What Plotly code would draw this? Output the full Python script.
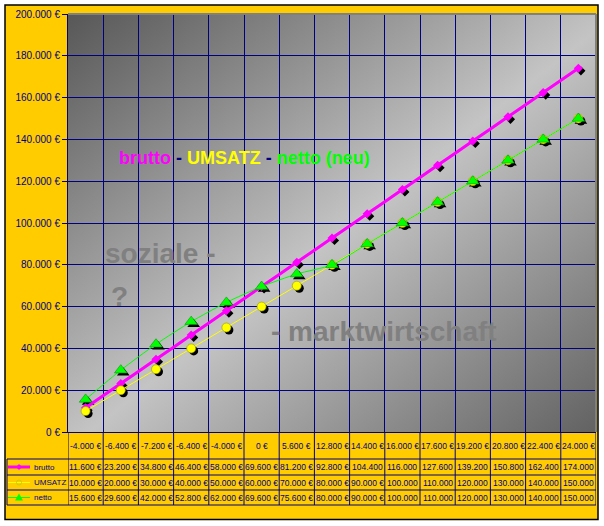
import base64
import plotly.graph_objects as go

# ---------------- data ----------------
col_labels = ["-4.000 €", "-6.400 €", "-7.200 €", "-6.400 €", "-4.000 €", "0 €", "5.600 €",
              "12.800 €", "14.400 €", "16.000 €", "17.600 €", "19.200 €", "20.800 €",
              "22.400 €", "24.000 €"]
brutto = [11600, 23200, 34800, 46400, 58000, 69600, 81200, 92800, 104400, 116000,
          127600, 139200, 150800, 162400, 174000]
umsatz = [10000, 20000, 30000, 40000, 50000, 60000, 70000, 80000, 90000, 100000,
          110000, 120000, 130000, 140000, 150000]
netto = [15600, 29600, 42000, 52800, 62000, 69600, 75600, 80000, 90000, 100000,
         110000, 120000, 130000, 140000, 150000]
series_names = ["brutto", "UMSATZ", "netto"]
y_ticks = [0, 20000, 40000, 60000, 80000, 100000, 120000, 140000, 160000, 180000, 200000]
y_range = [0, 200000]

# ---------------- layout helpers ----------------
W, H = 604, 526
L, R, T, B = 68, 8, 14, 94
PW = W - L - R
PH = H - T - B
NAVY = "#000080"
FONT = "Liberation Sans, Arial, sans-serif"


def px_x(px):
    return (px - L) / PW


def px_y(py):
    return (T + PH - py) / PH


def fmt_num(v):
    return f"{v:,.0f}".replace(",", ".")


def fmt_cell(v):
    return fmt_num(v) + " €" if v < 100000 else fmt_num(v)


n = len(col_labels)
xs = list(range(n))
x_range = [-0.5, n - 0.5]
bounds = [i - 0.5 for i in range(n + 1)]

SH = 2.5
dx = SH * (x_range[1] - x_range[0]) / PW
dy = SH * (y_range[1] - y_range[0]) / PH

styles = {
    "brutto": dict(color="#FF00FF", lw=3, symbol="diamond", size=7, mline=dict(width=0)),
    "UMSATZ": dict(color="#FFFF00", lw=1, symbol="circle", size=9, mline=dict(width=0.6, color="#999900")),
    "netto": dict(color="#00FF00", lw=1, symbol="triangle-up", size=11, mline=dict(width=0.6, color="#009900")),
}
values = {"brutto": brutto, "UMSATZ": umsatz, "netto": netto}

fig = go.Figure()

# invisible helper on base axes
fig.add_trace(go.Scatter(x=xs, y=brutto, mode="lines", line=dict(width=0), opacity=0,
                         hoverinfo="skip", showlegend=False, xaxis="x", yaxis="y"))

# shadows
for name in series_names:
    st = styles[name]
    fig.add_trace(go.Scatter(x=xs, y=values[name], mode="markers", showlegend=False,
                             hoverinfo="skip",
                             marker=dict(symbol=st["symbol"], size=st["size"], color="black",
                                         line=dict(width=0)),
                             xaxis="x2", yaxis="y2"))

# main series
for name in series_names:
    st = styles[name]
    fig.add_trace(go.Scatter(x=xs, y=values[name], mode="lines+markers", name=name,
                             showlegend=False,
                             line=dict(color=st["color"], width=st["lw"], shape="spline", smoothing=0.6),
                             marker=dict(symbol=st["symbol"], size=st["size"], color=st["color"],
                                         line=st["mline"]),
                             xaxis="x3", yaxis="y3"))

# background gradient
svg = ("<svg xmlns='http://www.w3.org/2000/svg' width='200' height='200' viewBox='0 0 200 200' "
       "preserveAspectRatio='none'><defs><linearGradient id='g' x1='0' y1='0' x2='1' y2='1'>"
       "<stop offset='0' stop-color='#575757'/><stop offset='0.52' stop-color='#c4c4c4'/>"
       "<stop offset='1' stop-color='#626262'/></linearGradient></defs>"
       "<rect width='200' height='200' fill='url(#g)'/></svg>")
src = "data:image/svg+xml;base64," + base64.b64encode(svg.encode()).decode()

shapes = []
# outer yellow frame
shapes.append(dict(type="rect", xref="paper", yref="paper", x0=px_x(5), x1=px_x(598),
                   y0=px_y(519.5), y1=px_y(5), fillcolor="#FFCC00",
                   line=dict(color="black", width=1.5), layer="below"))
# plot area gray border (top/right)
shapes.append(dict(type="line", xref="paper", yref="paper", x0=0, x1=1, y0=1, y1=1,
                   line=dict(color="#808080", width=2)))
shapes.append(dict(type="line", xref="paper", yref="paper", x0=1, x1=1, y0=0, y1=1,
                   line=dict(color="#808080", width=2)))
# table horizontal lines
row_tops = [459, 475, 490, 505]
for ry in row_tops:
    shapes.append(dict(type="line", xref="paper", yref="paper", x0=px_x(7), x1=px_x(596),
                       y0=px_y(ry), y1=px_y(ry), line=dict(color=NAVY, width=1)))
# table vertical lines
for b in bounds:
    shapes.append(dict(type="line", xref="x", yref="paper", x0=b, x1=b, y0=0, y1=px_y(505),
                       line=dict(color=NAVY, width=1)))
shapes.append(dict(type="line", xref="paper", yref="paper", x0=px_x(7), x1=px_x(7),
                   y0=px_y(459), y1=px_y(505), line=dict(color=NAVY, width=1)))

annotations = []
# header row
for i, lab in enumerate(col_labels):
    annotations.append(dict(x=xs[i], y=px_y(445.5), xref="x", yref="paper", text=lab,
                            showarrow=False, font=dict(family=FONT, size=8.5, color=NAVY),
                            xanchor="center", yanchor="middle"))
row_centers = [467, 482.5, 497.5]
for r, name in enumerate(series_names):
    st = styles[name]
    yc = row_centers[r]
    for i, v in enumerate(values[name]):
        annotations.append(dict(x=xs[i], y=px_y(yc), xref="x", yref="paper", text=fmt_cell(v),
                                showarrow=False, font=dict(family=FONT, size=8.5, color=NAVY),
                                xanchor="center", yanchor="middle"))
    annotations.append(dict(x=px_x(32), y=px_y(yc), xref="paper", yref="paper", text=name,
                            showarrow=False, font=dict(family=FONT, size=8, color=NAVY),
                            xanchor="left", yanchor="middle"))
    # legend swatch line
    shapes.append(dict(type="line", xref="paper", yref="paper", x0=px_x(8), x1=px_x(30),
                       y0=px_y(yc), y1=px_y(yc), line=dict(color=st["color"], width=st["lw"])))
    ax, ay = px_x(19), px_y(yc)
    if name == "brutto":
        shapes.append(dict(type="path", xref="paper", yref="paper", xsizemode="pixel",
                           ysizemode="pixel", xanchor=ax, yanchor=ay,
                           path="M -3 0 L 0 3 L 3 0 L 0 -3 Z", fillcolor=st["color"],
                           line=dict(width=0)))
    elif name == "UMSATZ":
        shapes.append(dict(type="circle", xref="paper", yref="paper", xsizemode="pixel",
                           ysizemode="pixel", xanchor=ax, yanchor=ay, x0=-2.5, x1=2.5,
                           y0=-2.5, y1=2.5, fillcolor="rgba(0,0,0,0)",
                           line=dict(color="#CCCC00", width=1)))
    else:
        shapes.append(dict(type="path", xref="paper", yref="paper", xsizemode="pixel",
                           ysizemode="pixel", xanchor=ax, yanchor=ay,
                           path="M -4 -3 L 4 -3 L 0 4 Z", fillcolor=st["color"],
                           line=dict(width=0)))

# big texts
title_html = ("<b><span style='color:#FF00FF'>brutto</span><span style='color:#000080'> - </span>"
              "<span style='color:#FFFF00'>UMSATZ</span><span style='color:#000080'> - </span>"
              "<span style='color:#00FF00'>netto (neu)</span></b>")
annotations.append(dict(x=px_x(244), y=px_y(158), xref="paper", yref="paper", text=title_html,
                        showarrow=False, font=dict(family=FONT, size=18),
                        xanchor="center", yanchor="middle"))
for txt, cx, cy in [("soziale -", 160, 253), ("?", 119, 296), ("- marktwirtschaft", 384, 331)]:
    annotations.append(dict(x=px_x(cx), y=px_y(cy), xref="paper", yref="paper",
                            text=f"<b>{txt}</b>", showarrow=False,
                            font=dict(family=FONT, size=28, color="#808080"),
                            xanchor="center", yanchor="middle"))

fig.update_layout(
    width=W, height=H,
    margin=dict(l=L, r=R, t=T, b=B, pad=0, autoexpand=False),
    paper_bgcolor="white",
    plot_bgcolor="rgba(0,0,0,0)",
    separators=",.",
    showlegend=False,
    xaxis=dict(range=x_range, tickvals=bounds, showticklabels=False, ticks="",
               showgrid=True, gridcolor=NAVY, gridwidth=1, zeroline=False,
               showline=True, linecolor=NAVY, linewidth=1, fixedrange=True),
    yaxis=dict(range=y_range, tickvals=y_ticks, ticktext=[fmt_num(v) + " €" for v in y_ticks],
               ticks="outside", ticklen=5, tickcolor=NAVY, tickwidth=1,
               showgrid=True, gridcolor=NAVY, gridwidth=1, zeroline=False,
               showline=True, linecolor=NAVY, linewidth=1, automargin=False,
               tickfont=dict(family=FONT, size=10, color=NAVY), fixedrange=True),
    xaxis2=dict(overlaying="x", range=[x_range[0] - dx, x_range[1] - dx], visible=False),
    yaxis2=dict(overlaying="y", range=[y_range[0] + dy, y_range[1] + dy], visible=False),
    xaxis3=dict(overlaying="x", range=x_range, visible=False),
    yaxis3=dict(overlaying="y", range=y_range, visible=False),
    images=[dict(source=src, xref="x", yref="y", x=x_range[0], y=y_range[1],
                 sizex=x_range[1] - x_range[0], sizey=y_range[1] - y_range[0],
                 sizing="stretch", layer="below", xanchor="left", yanchor="top")],
    shapes=shapes,
    annotations=annotations,
)

fig.write_html("out.html", config={"displayModeBar": False},
               post_script="document.body.style.margin='0';document.body.style.padding='0';")
